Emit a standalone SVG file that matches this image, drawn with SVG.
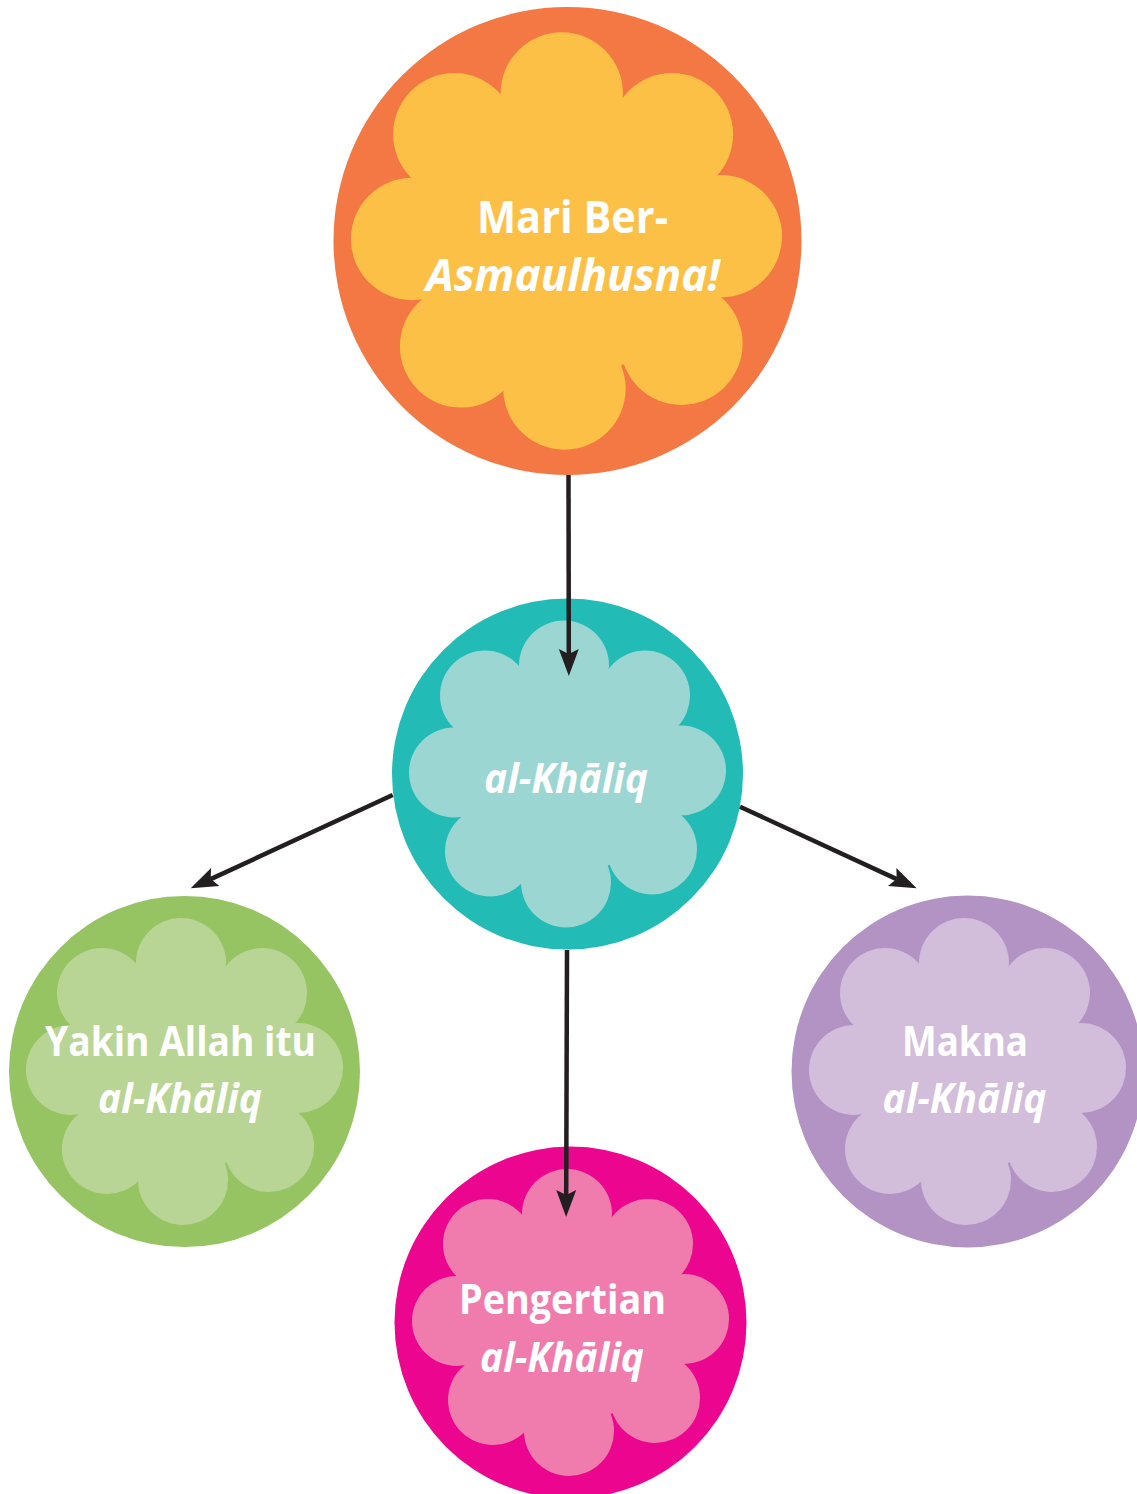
<svg xmlns="http://www.w3.org/2000/svg" xmlns:xlink="http://www.w3.org/1999/xlink" width="1137" height="1494" viewBox="0 0 1137 1494">
<style>
.t{font-family:"Open Sans","Noto Sans","Liberation Sans",sans-serif;font-weight:700;fill:#ffffff;text-anchor:middle}
.i{font-style:italic}
.c{stroke:#231F20;stroke-width:4.5;fill:none;marker-end:url(#arr)}
</style>
<defs>
<marker id="arr" markerUnits="userSpaceOnUse" markerWidth="32" markerHeight="26" viewBox="-28 -13 32 26" refX="-22" refY="0" orient="auto" overflow="visible">
<path d="M0,0 L-27,-10 L-22,0 L-27,10 Z" fill="#231F20"/>
</marker>
<g id="flower">
<circle cx="0" cy="0" r="100"/>
<circle cx="-3.5" cy="-108.5" r="45"/>
<circle cx="113.5" cy="-3.5" r="45"/>
<circle cx="-113.5" cy="-1.5" r="45"/>
<circle cx="-1.5" cy="108.5" r="45"/>
<circle cx="-82.5" cy="-78.5" r="45"/>
<circle cx="77.5" cy="-78.5" r="45"/>
<circle cx="-77.5" cy="77.5" r="45"/>
<circle cx="84.5" cy="75.5" r="45"/>
</g>
</defs>
<rect width="1137" height="1494" fill="#ffffff"/>
<g id="node-top">
<circle cx="567.5" cy="241" r="234" fill="#F37843"/>
<use xlink:href="#flower" transform="translate(566.5,241) scale(1.36)" fill="#FDC046"/>
<text class="t" x="572.5" y="233" font-size="45" textLength="191" lengthAdjust="spacingAndGlyphs">Mari Ber-</text>
<text class="t i" x="573" y="291" font-size="45" textLength="294" lengthAdjust="spacingAndGlyphs">Asmaulhusna!</text>
</g>
<g id="node-center">
<circle cx="567.5" cy="774" r="175.5" fill="#22BBB5"/>
<use xlink:href="#flower" transform="translate(567.5,774)" fill="#9BD6D3"/>
<text class="t i" x="566" y="793" font-size="41" textLength="164" lengthAdjust="spacingAndGlyphs">al-Khāliq</text>
</g>
<g id="node-left">
<circle cx="184.5" cy="1071.5" r="175.5" fill="#97C463"/>
<use xlink:href="#flower" transform="translate(184.5,1071.5)" fill="#B9D595"/>
<text class="t" x="180.5" y="1056" font-size="41" textLength="271" lengthAdjust="spacingAndGlyphs">Yakin Allah itu</text>
<text class="t i" x="180" y="1113" font-size="41" textLength="164" lengthAdjust="spacingAndGlyphs">al-Khāliq</text>
</g>
<g id="node-right">
<circle cx="967.5" cy="1071.5" r="176" fill="#B393C4"/>
<use xlink:href="#flower" transform="translate(967.5,1071.5)" fill="#D2BDDB"/>
<text class="t" x="965" y="1056" font-size="41" textLength="126" lengthAdjust="spacingAndGlyphs">Makna</text>
<text class="t i" x="964.5" y="1113" font-size="41" textLength="164" lengthAdjust="spacingAndGlyphs">al-Khāliq</text>
</g>
<g id="node-bottom">
<circle cx="570.5" cy="1322.5" r="176" fill="#EC058E"/>
<use xlink:href="#flower" transform="translate(570.5,1322.5)" fill="#F07CAE"/>
<text class="t" x="562.5" y="1314" font-size="41" textLength="207" lengthAdjust="spacingAndGlyphs">Pengertian</text>
<text class="t i" x="562" y="1372" font-size="41" textLength="164" lengthAdjust="spacingAndGlyphs">al-Khāliq</text>
</g>
<g id="connectors">
<line class="c" x1="568.5" y1="475" x2="568.8" y2="654"/>
<line class="c" x1="392.7" y1="795" x2="210.7" y2="879.1"/>
<line class="c" x1="740" y1="806.7" x2="896.7" y2="879.1"/>
<line class="c" x1="567" y1="950" x2="566.2" y2="1195"/>
</g>
</svg>
